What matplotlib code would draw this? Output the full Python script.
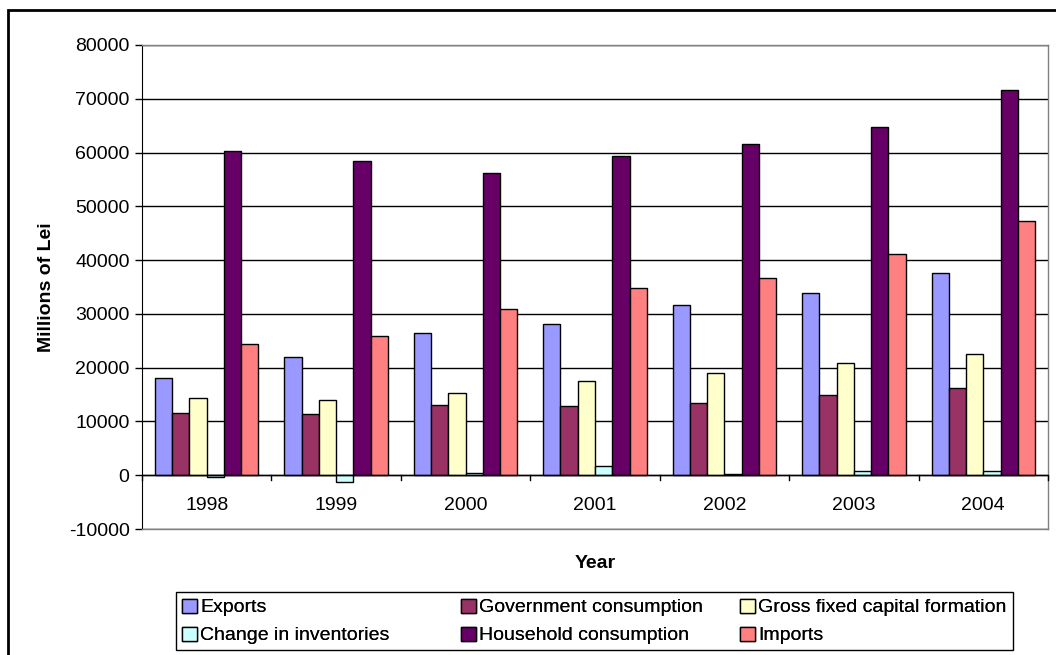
import matplotlib
matplotlib.use("Agg")
import matplotlib.pyplot as plt
import numpy as np
from matplotlib.patches import Rectangle

plt.rcParams['font.family'] = ['Liberation Sans', 'DejaVu Sans']

years = ['1998', '1999', '2000', '2001', '2002', '2003', '2004']
series_names = ['Exports', 'Government consumption', 'Gross fixed capital formation',
                'Change in inventories', 'Household consumption', 'Imports']
exports = [18000, 22000, 26400, 28200, 31600, 33800, 37600]
government = [11600, 11400, 13000, 12800, 13400, 15000, 16200]
gross_fixed = [14400, 13900, 15200, 17500, 19000, 20900, 22600]
inventories = [-300, -1300, 500, 1700, 300, 700, 800]
household = [60200, 58400, 56200, 59400, 61600, 64700, 71600]
imports = [24400, 25800, 30900, 34900, 36700, 41100, 47200]
colors = ['#9999FF', '#993366', '#FFFFCC', '#CCFFFF', '#660066', '#FF8080']

data = [exports, government, gross_fixed, inventories, household, imports]

FS = 14
W, H = 1056, 655

fig = plt.figure(figsize=(W/100, H/100), dpi=100)
ax = fig.add_axes([142/W, 1-529/H, (1048-142)/W, (529-45)/H])

n = len(series_names)
x = np.arange(len(years))
group = 0.80
w = group / n
handles = []
for i, (vals, c, name) in enumerate(zip(data, colors, series_names)):
    b = ax.bar(x - group/2 + w*(i+0.5), vals, width=w, color=c, edgecolor='black',
               linewidth=1.0, label=name, zorder=3)
    handles.append(b)

ax.set_xlim(-0.5, len(years)-0.5)
ax.set_ylim(-10000, 80000)
ax.set_yticks(np.arange(-10000, 80001, 10000))
ax.set_yticklabels([str(v) for v in range(-10000, 80001, 10000)], fontsize=FS)
ax.yaxis.grid(True, color='black', linewidth=1.0, zorder=0)
ax.set_axisbelow(True)

# category axis at zero
ax.set_xticks([])
ax.axhline(0, color='black', linewidth=1.0, zorder=4)
for k in range(len(years)+1):
    ax.plot([k-0.5, k-0.5], [0, -900], color='black', linewidth=1.0, clip_on=False, zorder=4)
for k, yr in enumerate(years):
    ax.text(k, -5600, yr, ha='center', va='center', fontsize=FS)

for s in ['top', 'right', 'bottom']:
    ax.spines[s].set_color('#808080')
    ax.spines[s].set_linewidth(1.0)
ax.spines['left'].set_color('black')
ax.tick_params(axis='y', length=5, width=1, pad=4)

ax.set_ylabel('Millions of Lei', fontsize=FS, fontweight='bold', labelpad=10)
fig.text(595/W, 1-563/H, 'Year', ha='center', va='center', fontsize=FS, fontweight='bold')

# legend: three equal-width columns inside one frame
fig.patches.append(Rectangle((176/W, 1-650/H), (1013-176)/W, (650-592)/H,
                             transform=fig.transFigure, fill=False,
                             edgecolor='black', linewidth=1.0))
col_x = [182, 461, 740]
columns = [[0, 3], [1, 4], [2, 5]]
for cx, idxs in zip(col_x, columns):
    lg = fig.legend([handles[i] for i in idxs], [series_names[i] for i in idxs],
                    loc='center left', bbox_to_anchor=(cx/W, 1-621.5/H),
                    fontsize=FS, frameon=False,
                    handlelength=0.75, handleheight=0.75, handletextpad=0.18,
                    labelspacing=0.52, borderpad=0, borderaxespad=0)
    fig.add_artist(lg)

fig.patches.append(Rectangle((8/W, -1), 2, 2 - 10/H, transform=fig.transFigure,
                             fill=False, edgecolor='black', linewidth=2))

fig.savefig('out.png', dpi=100)
